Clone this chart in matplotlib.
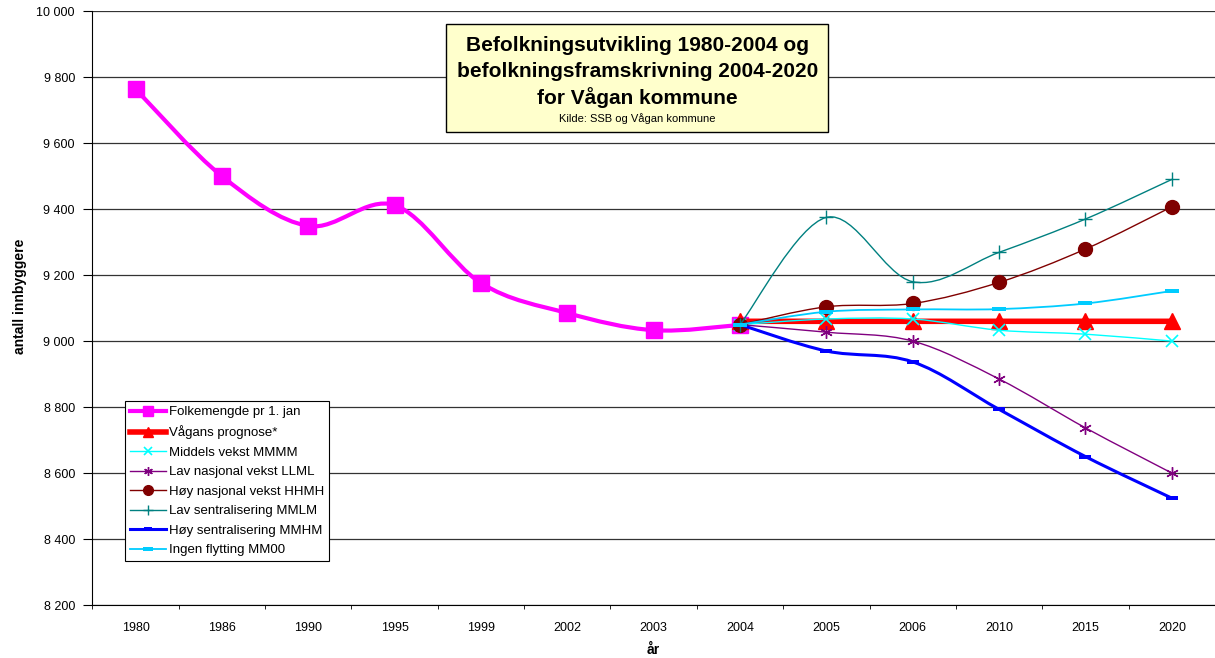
import numpy as np
import matplotlib
matplotlib.use('Agg')
import matplotlib.pyplot as plt
import matplotlib.ticker as mticker
from matplotlib.path import Path
from matplotlib.patches import PathPatch, Rectangle
from matplotlib.lines import Line2D

plt.rcParams['font.family'] = ['Liberation Sans', 'DejaVu Sans']

years = ['1980', '1986', '1990', '1995', '1999', '2002', '2003', '2004',
         '2005', '2006', '2010', '2015', '2020']

# historical population, 1980-2004
folkemengde = [9764, 9500, 9349, 9412, 9176, 9085, 9033, 9049]

# projections, 2004-2020
vagans_prognose = [9060, 9060, 9060, 9060, 9060, 9060]
middels_mmmm = [9050, 9067, 9067, 9033, 9021, 9000]
lav_llml = [9050, 9027, 9000, 8885, 8737, 8600]
hoy_hhmh = [9050, 9104, 9114, 9178, 9279, 9407]
lav_sentr_mmlm = [9050, 9375, 9180, 9269, 9370, 9490]
hoy_sentr_mmhm = [9050, 8970, 8937, 8793, 8650, 8524]
ingen_mm00 = [9050, 9089, 9096, 9097, 9114, 9152]

title_lines = ['Befolkningsutvikling 1980-2004 og',
               'befolkningsframskrivning 2004-2020',
               'for Vågan kommune']

dash = [(-1, -0.35), (1, -0.35), (1, 0.35), (-1, 0.35)]

series = [
    ('Folkemengde pr 1. jan', folkemengde, 0, '#FF00FF', 3, 's', 11, 1),
    ('Vågans prognose*', vagans_prognose, 7, '#FF0000', 4, '^', 11, 1),
    ('Middels vekst MMMM', middels_mmmm, 7, '#00FFFF', 1, 'x', 8, 1.2),
    ('Lav nasjonal vekst LLML', lav_llml, 7, '#800080', 1, (6, 2, 0), 9, 1),
    ('Høy nasjonal vekst HHMH', hoy_hhmh, 7, '#800000', 1, 'o', 10, 1),
    ('Lav sentralisering MMLM', lav_sentr_mmlm, 7, '#008080', 1, '+', 10, 1),
    ('Høy sentralisering MMHM', hoy_sentr_mmhm, 7, '#0000FF', 2.2, dash, 9, 0),
    ('Ingen flytting MM00', ingen_mm00, 7, '#00CCFF', 1.3, dash, 10, 0),
]


def smooth_path(xs, ys):
    # excel-like smoothed line (catmull-rom as cubic bezier)
    pts = np.column_stack([xs, ys]).astype(float)
    n = len(pts)
    verts = [pts[0]]
    codes = [Path.MOVETO]
    for i in range(n - 1):
        p0 = pts[i - 1] if i > 0 else pts[i]
        p1 = pts[i]
        p2 = pts[i + 1]
        p3 = pts[i + 2] if i + 2 < n else pts[i + 1]
        verts += [p1 + (p2 - p0) / 6, p2 - (p3 - p1) / 6, p2]
        codes += [Path.CURVE4] * 3
    return Path(verts, codes)


fig = plt.figure(figsize=(12.15, 6.58), dpi=100)
ax = fig.add_axes([0.076, 0.0805, 0.924, 0.9025])

handles = []
for z, (label, vals, start, color, lw, marker, ms, mew) in enumerate(series):
    xs = np.arange(start, start + len(vals))
    patch = PathPatch(smooth_path(xs, vals), facecolor='none', edgecolor=color,
                      lw=lw, joinstyle='round', capstyle='round', zorder=3 + z)
    ax.add_patch(patch)
    ax.plot(xs, vals, linestyle='none', marker=marker, markersize=ms,
            color=color, markeredgecolor=color, markeredgewidth=mew, zorder=3 + z)
    handles.append(Line2D([], [], color=color, lw=lw, marker=marker,
                          markersize=ms * 0.7, markeredgewidth=mew, markeredgecolor=color))

ax.set_xlim(-0.5, len(years) - 0.5)
ax.set_ylim(8200, 10000)
ax.set_xticks(np.arange(len(years)))
ax.set_xticklabels(years, fontsize=9)
ax.xaxis.set_minor_locator(mticker.FixedLocator(np.arange(-0.5, len(years), 1)))
ax.tick_params(axis='x', which='major', length=0, pad=12)
ax.tick_params(axis='x', which='minor', length=3, direction='out')
ax.set_yticks(np.arange(8200, 10001, 200))
ax.yaxis.set_major_formatter(mticker.FuncFormatter(lambda v, p: '{:,}'.format(int(v)).replace(',', ' ')))
ax.tick_params(axis='y', length=6.5, pad=6, direction='out', labelsize=9)

ax.grid(axis='y', color='#333333', lw=0.9)
ax.set_axisbelow(True)
for s in ['top', 'right']:
    ax.spines[s].set_visible(False)

ax.set_xlabel('år', fontsize=10, fontweight='bold')
ax.xaxis.set_label_coords(0.5, -0.064)
ax.set_ylabel('antall innbyggere', fontsize=10, fontweight='bold')
ax.yaxis.set_label_coords(-0.058, 0.52)

# title box
ax.add_patch(Rectangle((0.315, 0.796), 0.3405, 0.182, transform=ax.transAxes,
                       facecolor='#FFFFCC', edgecolor='black', lw=1, zorder=20))
for i, line in enumerate(title_lines):
    ax.text(0.4855, 0.943 - i * 0.0438, line, transform=ax.transAxes,
            ha='center', va='center', fontsize=15, fontweight='bold', zorder=21)
ax.text(0.4855, 0.820, 'Kilde: SSB og Vågan kommune', transform=ax.transAxes,
        ha='center', va='center', fontsize=8, zorder=21)

leg = ax.legend(handles, [s[0] for s in series], loc='upper left',
                bbox_to_anchor=(0.029, 0.343), borderaxespad=0, fontsize=9.5,
                handlelength=2.8, handletextpad=0.2, labelspacing=0.55,
                frameon=True, fancybox=False, edgecolor='black', framealpha=1,
                borderpad=0.35)
leg.get_frame().set_linewidth(0.8)
leg.set_zorder(30)

fig.savefig('out.png', dpi=100)
